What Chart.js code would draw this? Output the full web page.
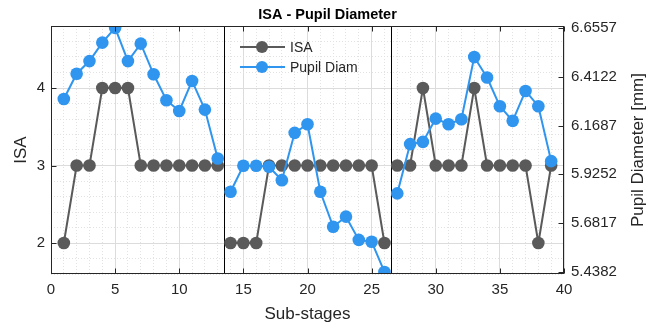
<!DOCTYPE html>
<html>
<head>
<meta charset="utf-8">
<script src="https://cdn.jsdelivr.net/npm/chart.js@4"></script>
<style>
  html, body { margin: 0; padding: 0; background: #fff; }
  canvas { display: block; }
</style>
</head>
<body>
<canvas id="chart" width="655" height="329"></canvas>
<script>
// sub-stages 1..39, three stages of 13
const subStages = [1,2,3,4,5,6,7,8,9,10,11,12,13,14,15,16,17,18,19,20,21,22,23,24,25,26,27,28,29,30,31,32,33,34,35,36,37,38,39];
const isaValues = [2,3,3,4,4,4,3,3,3,3,3,3,3, 2,2,2,3,3,3,3,3,3,3,3,3,2, 3,3,4,3,3,3,4,3,3,3,3,2,3];
const pupilDiam = [6.301,6.427,6.490,6.582,6.6557,6.490,6.577,6.424,6.295,6.241,6.391,6.248,6.004,
                   5.838,5.968,5.968,5.963,5.896,6.132,6.175,5.838,5.664,5.714,5.598,5.589,5.4382,
                   5.830,6.076,6.087,6.203,6.175,6.200,6.510,6.408,6.265,6.192,6.341,6.265,5.991];
const stageBreaks = [13.5, 26.5];
const pupilTicks = [5.4382, 5.6817, 5.9252, 6.1687, 6.4122, 6.6557];
const isaTicks = [2, 3, 4];
const xMajor = [0, 5, 10, 15, 20, 25, 30, 35, 40];

const GRAY = '#5a5a5a', BLUE = '#2f95ee', INK = '#262626';
const FONT = '"Liberation Sans", Arial, sans-serif';

// split each series at the stage boundaries so lines don't join across stages
const toPoints = vals => {
  const pts = [];
  subStages.forEach((s, i) => {
    pts.push({x: s, y: vals[i]});
    const next = subStages[i + 1];
    stageBreaks.forEach(b => { if (next !== undefined && s < b && next > b) pts.push({x: b, y: null}); });
  });
  return pts;
};

const isMajor = (v, step) => Math.abs(v / step - Math.round(v / step)) < 1e-6;

const deco = {
  id: 'deco',
  beforeDatasetsDraw(chart) {
    const {ctx, chartArea: a, scales: {x}} = chart;
    ctx.save();
    ctx.strokeStyle = '#000'; ctx.lineWidth = 1;
    stageBreaks.forEach(b => {
      const px = Math.round(x.getPixelForValue(b)) + 0.5;
      ctx.beginPath(); ctx.moveTo(px, a.top); ctx.lineTo(px, a.bottom); ctx.stroke();
    });
    ctx.restore();
  },
  afterDraw(chart) {
    const {ctx, chartArea: a, scales: {x, y, y2}} = chart;
    const L = Math.round(a.left) + 0.5, R = Math.round(a.right) - 0.5;
    const T = Math.round(a.top) + 0.5, B = Math.round(a.bottom) - 0.5;
    ctx.save();
    ctx.strokeStyle = INK; ctx.lineWidth = 1;
    ctx.strokeRect(L, T, R - L, B - T);
    // inward tick marks
    ctx.beginPath();
    xMajor.forEach(v => {
      const px = Math.round(x.getPixelForValue(v)) + 0.5;
      ctx.moveTo(px, B); ctx.lineTo(px, B - 5);
      ctx.moveTo(px, T); ctx.lineTo(px, T + 5);
    });
    isaTicks.forEach(v => {
      const py = Math.round(y.getPixelForValue(v)) + 0.5;
      ctx.moveTo(L, py); ctx.lineTo(L + 5, py);
    });
    pupilTicks.forEach(v => {
      const py = Math.round(y2.getPixelForValue(v)) + 0.5;
      ctx.moveTo(R, py); ctx.lineTo(R - 5, py);
    });
    ctx.stroke();

    // y axis titles, both reading bottom to top
    ctx.fillStyle = INK;
    ctx.font = '17px ' + FONT;
    ctx.textAlign = 'center'; ctx.textBaseline = 'middle';
    const midY = (a.top + a.bottom) / 2;
    [[21, 'ISA'], [638, 'Pupil Diameter [mm]']].forEach(([cx, t]) => {
      ctx.save(); ctx.translate(cx, midY); ctx.rotate(-Math.PI / 2);
      ctx.fillText(t, 0, 0); ctx.restore();
    });

    // legend
    ctx.font = '14px ' + FONT;
    ctx.textAlign = 'left';
    chart.data.datasets.forEach((ds, i) => {
      const ly = 47 + i * 20;
      ctx.strokeStyle = ds.borderColor; ctx.lineWidth = 2;
      ctx.beginPath(); ctx.moveTo(240, ly); ctx.lineTo(285, ly); ctx.stroke();
      ctx.fillStyle = ds.pointBackgroundColor;
      ctx.beginPath(); ctx.arc(262, ly, 6, 0, Math.PI * 2); ctx.fill();
      ctx.fillStyle = INK;
      ctx.fillText(ds.label, 290, ly + 1);
    });
    ctx.restore();
  }
};

new Chart(document.getElementById('chart'), {
  type: 'line',
  data: {
    datasets: [
      {label: 'ISA', data: toPoints(isaValues), yAxisID: 'y', order: 1,
       borderColor: GRAY, backgroundColor: GRAY, pointBackgroundColor: GRAY, pointBorderColor: GRAY,
       borderWidth: 2, pointRadius: 6.3, pointBorderWidth: 0, tension: 0, spanGaps: false},
      {label: 'Pupil Diam', data: toPoints(pupilDiam), yAxisID: 'y2', order: 0,
       borderColor: BLUE, backgroundColor: BLUE, pointBackgroundColor: BLUE, pointBorderColor: BLUE,
       borderWidth: 2, pointRadius: 6.3, pointBorderWidth: 0, tension: 0, spanGaps: false}
    ]
  },
  options: {
    responsive: false,
    animation: false,
    layout: {padding: 0},
    plugins: {
      legend: {display: false},
      tooltip: {enabled: false},
      title: {display: true, text: 'ISA - Pupil Diameter', color: '#000',
              font: {family: FONT, size: 14.5, weight: 'bold'}, padding: {top: 6, bottom: 2.6}}
    },
    scales: {
      x: {
        type: 'linear', min: 0, max: 40,
        ticks: {stepSize: 1, autoSkip: false, maxRotation: 0, color: INK, padding: 7,
                font: {family: FONT, size: 15},
                callback: v => isMajor(v, 5) ? v : ''},
        grid: {drawTicks: false, lineWidth: 1,
               color: c => isMajor(c.tick.value, 5) ? '#dcdcdc' : '#e2e2e2'},
        border: {display: false, dash: c => c.tick && isMajor(c.tick.value, 5) ? [] : [1, 2]},
        title: {display: true, text: 'Sub-stages', color: INK, font: {family: FONT, size: 17},
                padding: {top: 0, bottom: 4}},
        afterFit: s => { s.height = 55; }
      },
      y: {
        position: 'left', min: 1.6, max: 4.8,
        ticks: {stepSize: 0.2, autoSkip: false, color: INK, padding: 6,
                font: {family: FONT, size: 15},
                callback: v => isMajor(v, 1) ? Math.round(v) : ''},
        grid: {drawTicks: false, lineWidth: 1,
               color: c => isMajor(c.tick.value, 1) ? '#dcdcdc' : '#e2e2e2'},
        border: {display: false, dash: c => c.tick && isMajor(c.tick.value, 1) ? [] : [1, 2]},
        afterFit: s => { s.width = 51; }
      },
      y2: {
        position: 'right', min: 5.428, max: 6.665,
        afterBuildTicks: s => { s.ticks = pupilTicks.map(v => ({value: v})); },
        ticks: {color: INK, padding: 7, font: {family: FONT, size: 15},
                callback: v => v.toFixed(4)},
        grid: {drawOnChartArea: false, drawTicks: false},
        border: {display: false},
        afterFit: s => { s.width = 91; }
      }
    }
  },
  plugins: [deco]
});
</script>
</body>
</html>
